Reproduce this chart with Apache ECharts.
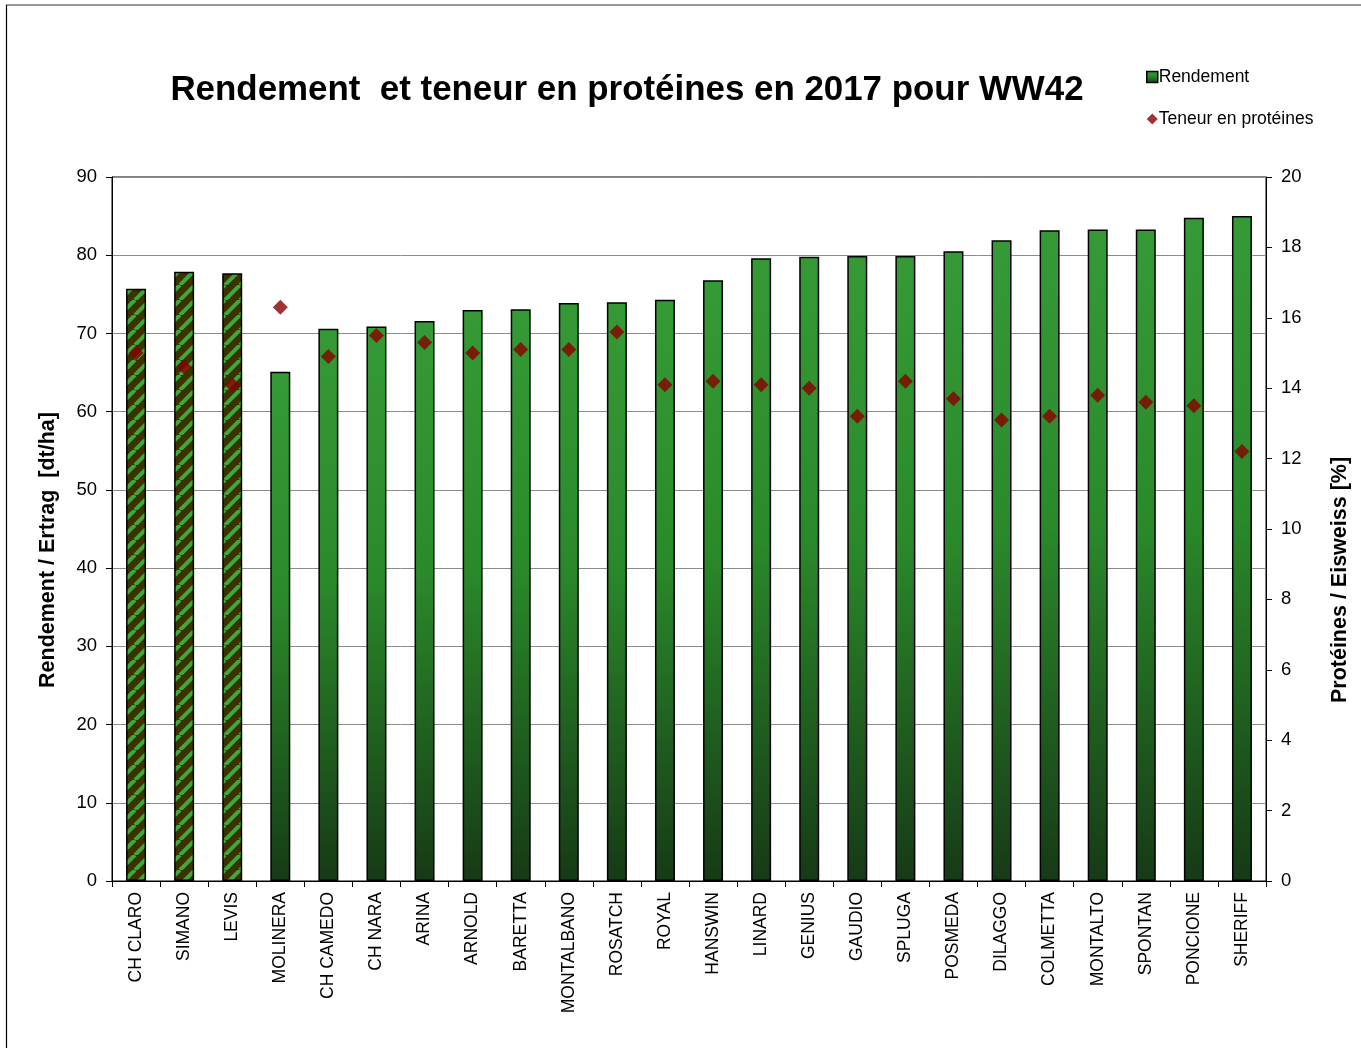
<!DOCTYPE html>
<html><head><meta charset="utf-8">
<script src="https://cdn.jsdelivr.net/npm/echarts@6/dist/echarts.min.js"></script>
<style>html,body{margin:0;padding:0;background:#fff}#c{width:1361px;height:1048px}</style>
</head><body><div id="c"></div>
<script>
const categories = ['CH CLARO','SIMANO','LEVIS','MOLINERA','CH CAMEDO','CH NARA','ARINA','ARNOLD','BARETTA','MONTALBANO','ROSATCH','ROYAL','HANSWIN','LINARD','GENIUS','GAUDIO','SPLUGA','POSMEDA','DILAGGO','COLMETTA','MONTALTO','SPONTAN','PONCIONE','SHERIFF'];
const rendement = [75.7,77.9,77.7,65.1,70.6,70.9,71.6,73.0,73.1,73.9,74.0,74.3,76.8,79.6,79.8,79.9,79.9,80.5,81.9,83.2,83.3,83.3,84.8,85.0];
const proteines = [15.0,14.6,14.1,16.3,14.9,15.5,15.3,15.0,15.1,15.1,15.6,14.1,14.2,14.1,14.0,13.2,14.2,13.7,13.1,13.2,13.8,13.6,13.5,12.2];
const stripedCount = 3;

// stripe pattern
const S = 15;
const pc = document.createElement('canvas');
pc.width = S; pc.height = S;
const g = pc.getContext('2d');
g.fillStyle = '#3a3300'; g.fillRect(0,0,S,S);
g.strokeStyle = '#3ea83a'; g.lineWidth = 4;
g.beginPath();
for (let k=-S;k<=2*S;k+=S){ g.moveTo(k,S); g.lineTo(k+S,0); }
g.stroke();

const grad = new echarts.graphic.LinearGradient(0,0,0,1,[
  {offset:0,color:'#359a35'},{offset:0.45,color:'#2a8a2a'},{offset:1,color:'#163a16'}]);

const barData = rendement.map((v,i)=> i<stripedCount ? {value:v,itemStyle:{color:{image:pc,repeat:'repeat'}}} : v);

const FF = 'Liberation Sans, Arial, sans-serif';
const chart = echarts.init(document.getElementById('c'));
chart.setOption({
  animation:false,
  backgroundColor:'#fff',
  textStyle:{fontFamily:FF},
  title:{text:'Rendement  et teneur en protéines en 2017 pour WW42',left:622,textAlign:'center',top:68,
    textStyle:{fontSize:34.9,fontWeight:'bold',color:'#000',fontFamily:FF}},
  legend:{orient:'vertical',left:1141,top:63,itemGap:24,itemWidth:11,itemHeight:11,
    textStyle:{fontSize:17.5,color:'#000',padding:[0,0,0,-4]},
    data:[{name:'Rendement',icon:'rect',itemStyle:{borderColor:'#000',borderWidth:1.5}},{name:'Teneur en protéines',icon:'diamond'}]},
  graphic:[
    {type:'line',shape:{x1:6,y1:5,x2:1361,y2:5},style:{stroke:'#777',lineWidth:1.5}},
    {type:'line',shape:{x1:6.5,y1:5,x2:6.5,y2:1048},style:{stroke:'#000',lineWidth:1.2}},
    {type:'text',x:48,y:550,rotation:Math.PI/2,style:{text:'Rendement / Ertrag  [dt/ha]',font:'bold 21.5px '+FF,fill:'#000',textAlign:'center',textVerticalAlign:'middle'}},
    {type:'text',x:1340,y:580,rotation:Math.PI/2,style:{text:'Protéines / Eisweiss [%]',font:'bold 21.5px '+FF,fill:'#000',textAlign:'center',textVerticalAlign:'middle'}}
  ],
  grid:{left:112,right:95,top:177,bottom:167,show:true,borderColor:'#000',borderWidth:1},
  xAxis:{type:'category',data:categories,
    axisLine:{lineStyle:{color:'#000',width:1}},
    axisTick:{show:true,length:6,lineStyle:{color:'#000'}},
    axisLabel:{rotate:90,fontSize:17.5,color:'#000',margin:11,interval:0}},
  yAxis:[
    {type:'value',min:0,max:90,interval:10,
     axisLine:{show:true,lineStyle:{color:'#000'}},axisTick:{show:true,length:6,lineStyle:{color:'#000'}},
     axisLabel:{fontSize:18.5,color:'#000',margin:15},
     splitLine:{lineStyle:{color:'#8c8c8c',width:1}}},
    {type:'value',min:0,max:20,interval:2,
     axisLine:{show:true,lineStyle:{color:'#000'}},axisTick:{show:true,length:6,lineStyle:{color:'#000'}},
     axisLabel:{fontSize:18.5,color:'#000',margin:15},
     splitLine:{show:false}}
  ],
  series:[
    {name:'Rendement',type:'bar',data:barData,barWidth:20,yAxisIndex:0,
     itemStyle:{color:grad,borderColor:'#000',borderWidth:1.5}},
    {name:'Teneur en protéines',type:'scatter',data:proteines,yAxisIndex:1,symbol:'diamond',symbolSize:15,
     itemStyle:{color:'#880000'},z:5}
  ]
});
</script></body></html>
